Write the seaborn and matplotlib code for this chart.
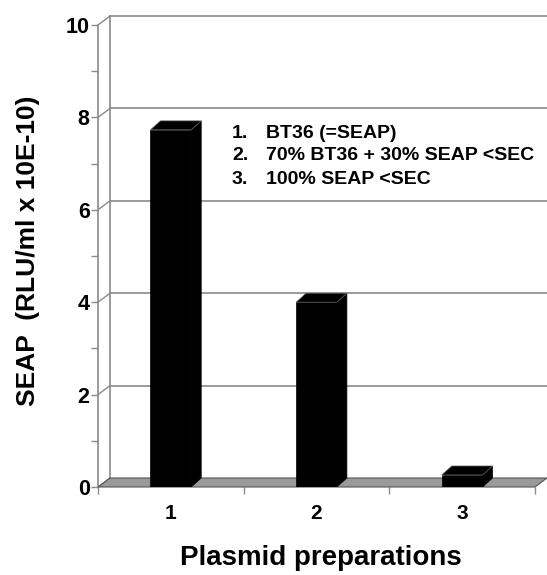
import matplotlib
matplotlib.use("Agg")
import matplotlib.pyplot as plt
import seaborn as sns
import pandas as pd
from matplotlib.patches import Polygon

categories = ["1", "2", "3"]
values = [7.73, 4.0, 0.26]
legend_nums = ["1.", "2.", "3."]
legend_texts = ["BT36 (=SEAP)", "70% BT36 + 30% SEAP <SEC", "100% SEAP <SEC"]
yticks = [0, 2, 4, 6, 8, 10]
xlabel = "Plasmid preparations"
ylabel = "SEAP  (RLU/ml x 10E-10)"

sns.set_theme(style="white")
plt.rcParams['font.family'] = ['Liberation Sans', 'DejaVu Sans']
plt.rcParams['font.weight'] = 'bold'
plt.rcParams['text.color'] = 'black'
plt.rcParams['xtick.labelcolor'] = 'black'
plt.rcParams['ytick.labelcolor'] = 'black'

W, H = 547, 575
fig = plt.figure(figsize=(W / 100, H / 100), dpi=100)
ax_l, ax_r, ax_b, ax_t = 98, 535, 487, 25
ax = fig.add_axes([ax_l / W, (H - ax_b) / H, (ax_r - ax_l) / W, (ax_b - ax_t) / H])
ax.set_xlim(-0.5, 2.5)
ax.set_ylim(0, 10)
ax.patch.set_alpha(0)
for s in ax.spines.values():
    s.set_visible(False)

# pixel -> data scale
px_x = 3.0 / (ax_r - ax_l)
px_y = 10.0 / (ax_b - ax_t)
wall_dx, wall_dy = 12 * px_x, 9 * px_y
bar_dx, bar_dy = 10 * px_x, 9 * px_y
grid_c = "#8a8a8a"

# floor
floor = Polygon([(-0.5, 0), (2.5, 0), (2.5 + wall_dx, wall_dy), (-0.5 + wall_dx, wall_dy)],
                closed=True, facecolor="#9a9a9a", edgecolor="#555555", lw=0.8, zorder=1, clip_on=False)
ax.add_patch(floor)

# back wall gridlines + connectors
for t in yticks:
    if t > 0:
        ax.plot([-0.5 + wall_dx, 2.5 + wall_dx], [t + wall_dy, t + wall_dy], color=grid_c, lw=1.2, zorder=0.5, clip_on=False)
    ax.plot([-0.5, -0.5 + wall_dx], [t, t + wall_dy], color=grid_c, lw=1.0, zorder=0.5, clip_on=False)
ax.plot([-0.5 + wall_dx, -0.5 + wall_dx], [wall_dy, 10 + wall_dy], color=grid_c, lw=1.2, zorder=0.5, clip_on=False)
ax.plot([-0.5, -0.5], [0, 10], color=grid_c, lw=1.2, zorder=0.6, clip_on=False)

df = pd.DataFrame({"cat": categories, "val": values})
sns.barplot(data=df, x="cat", y="val", color="black", width=0.28, ax=ax,
            saturation=1, edgecolor="black", linewidth=0.5, zorder=3)
ax.set_xlabel("")
ax.set_ylabel("")

bars = [p for p in ax.patches if p is not floor]
for p in bars:
    x0 = p.get_x(); w = p.get_width(); h = p.get_height()
    side = Polygon([(x0 + w, 0), (x0 + w + bar_dx, bar_dy), (x0 + w + bar_dx, h + bar_dy), (x0 + w, h)],
                   closed=True, facecolor="black", edgecolor="black", lw=0.5, zorder=2.9)
    top = Polygon([(x0, h), (x0 + bar_dx, h + bar_dy), (x0 + w + bar_dx, h + bar_dy), (x0 + w, h)],
                  closed=True, facecolor="black", edgecolor="#666666", lw=0.5, zorder=3.1)
    ax.add_patch(side)
    ax.add_patch(top)

ax.set_yticks(yticks)
ax.set_yticks([1, 3, 5, 7, 9], minor=True)
ax.set_yticklabels([str(t) for t in yticks], fontsize=15.5, fontweight="bold")
ax.set_xticks([-0.5, 0.5, 1.5, 2.5], minor=True)
ax.set_xticks([0, 1, 2])
ax.set_xticklabels(categories, fontsize=15, fontweight="bold")
ax.tick_params(axis="y", which="both", left=True, length=5, width=1, color=grid_c, pad=1, labelcolor="black")
ax.tick_params(axis="x", which="major", bottom=False, pad=6, labelcolor="black")
ax.tick_params(axis="x", which="minor", bottom=True, length=5, width=1, color=grid_c)

fig.text(321 / W, 1 - 558 / H, xlabel, fontsize=20, fontweight="bold", ha="center", va="center", color="black")
fig.text(28 / W, 1 - 251 / H, ylabel, fontsize=19, fontweight="bold", ha="center", va="center", rotation=90, color="black")

for i, (num, txt) in enumerate(zip(legend_nums, legend_texts)):
    yd = (ax_b - (133 + i * 23)) * px_y
    ax.text((232 - ax_l) * px_x - 0.5, yd, num, fontsize=14, fontweight="bold", va="center", ha="left", zorder=5, color="black")
    ax.text((266 - ax_l) * px_x - 0.5, yd, txt, fontsize=14, fontweight="bold", va="center", ha="left", zorder=5, color="black")

fig.savefig("out.png", dpi=100)
